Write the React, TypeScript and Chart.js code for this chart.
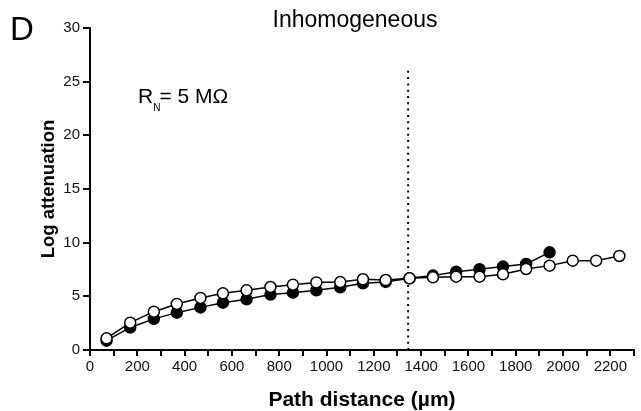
import React, { useEffect, useRef } from "react";
import { Chart, registerables } from "chart.js";

Chart.register(...registerables);

const pathDistance = [70, 170, 270, 367, 467, 562, 662, 763, 858, 957, 1058, 1154, 1250, 1351, 1450, 1548, 1647, 1746, 1844, 1943, 2041, 2140, 2238];
const filledValues = [0.87, 2.1, 2.9, 3.48, 3.97, 4.41, 4.72, 5.16, 5.34, 5.56, 5.85, 6.21, 6.34, 6.68, 6.93, 7.3, 7.52, 7.77, 8.01, 9.1];
const openValues = [1.09, 2.55, 3.57, 4.29, 4.85, 5.28, 5.56, 5.87, 6.09, 6.3, 6.33, 6.59, 6.52, 6.68, 6.77, 6.83, 6.83, 7.05, 7.55, 7.86, 8.32, 8.32, 8.76];
const markerX = [1345, 1345];
const markerY = [0, 26.2];
const yTicks = [0, 5, 10, 15, 20, 25, 30];

const FONT = "'Liberation Sans', Arial, Helvetica, sans-serif";

const annotations = {
  id: "annotations",
  afterDraw(chart: any) {
    const ctx = chart.ctx;
    ctx.save();
    ctx.fillStyle = "#000";
    ctx.textBaseline = "alphabetic";
    ctx.textAlign = "left";
    ctx.font = `33px ${FONT}`;
    ctx.fillText("D", 10, 40);
    ctx.textAlign = "center";
    ctx.font = `23px ${FONT}`;
    ctx.fillText("Inhomogeneous", 355, 27);
    ctx.textAlign = "left";
    ctx.font = `21px ${FONT}`;
    let x = 138;
    ctx.fillText("R", x, 103);
    x += ctx.measureText("R").width;
    ctx.font = `10px ${FONT}`;
    ctx.fillText("N", x, 111);
    x += ctx.measureText("N").width - 1;
    ctx.font = `21px ${FONT}`;
    ctx.fillText("= 5 M\u03A9", x, 103);
    ctx.restore();
  },
};

export default function App() {
  const ref = useRef<HTMLCanvasElement>(null);
  useEffect(() => {
    if (!ref.current) return;
    const chart = new Chart(ref.current, {
      type: "line",
      data: {
        datasets: [
          {
            label: "open",
            data: pathDistance.slice(0, openValues.length).map((d, i) => ({ x: d, y: openValues[i] })),
            borderColor: "#000",
            borderWidth: 1.5,
            backgroundColor: "#fff",
            pointBackgroundColor: "#fff",
            pointBorderColor: "#000",
            pointBorderWidth: 1.5,
            pointRadius: 5.5,
            tension: 0,
            order: 0,
          },
          {
            label: "filled",
            data: pathDistance.slice(0, filledValues.length).map((d, i) => ({ x: d, y: filledValues[i] })),
            borderColor: "#000",
            borderWidth: 1.5,
            backgroundColor: "#000",
            pointBackgroundColor: "#000",
            pointBorderColor: "#000",
            pointBorderWidth: 1.5,
            pointRadius: 5.5,
            tension: 0,
            order: 1,
          },
          {
            label: "marker",
            data: markerX.map((d, i) => ({ x: d, y: markerY[i] })),
            borderColor: "#000",
            borderWidth: 2,
            borderDash: [2, 4.3],
            pointRadius: 0,
            order: 2,
          },
        ],
      },
      options: {
        animation: false,
        responsive: false,
        maintainAspectRatio: false,
        layout: { padding: { left: 0, right: 6, top: 28, bottom: 0 } },
        plugins: {
          legend: { display: false },
          tooltip: { enabled: false },
          title: { display: false },
        },
        scales: {
          x: {
            type: "linear",
            min: 0,
            max: 2300,
            afterFit: (s: any) => {
              s.height = 61;
              s.paddingLeft = 0;
              s.paddingRight = 0;
            },
            border: { display: true, color: "#000", width: 2 },
            grid: { drawOnChartArea: false, drawTicks: true, tickLength: 6, color: "#000", lineWidth: 2 },
            ticks: {
              stepSize: 100,
              autoSkip: false,
              maxRotation: 0,
              padding: 2,
              color: "#111",
              font: { family: FONT, size: 15 },
              callback: (v: any) => (Number(v) % 200 === 0 ? String(v) : ""),
            },
            title: {
              display: true,
              text: "Path distance (\u00B5m)",
              color: "#000",
              font: { family: FONT, size: 21, weight: "bold", lineHeight: 1 },
              padding: 0,
            },
          },
          y: {
            min: 0,
            max: 30,
            afterFit: (s: any) => {
              s.width = 90;
              s.paddingTop = 0;
              s.paddingBottom = 0;
            },
            afterBuildTicks: (s: any) => {
              s.ticks = yTicks.map((v) => ({ value: v }));
            },
            border: { display: true, color: "#000", width: 2 },
            grid: { drawOnChartArea: false, drawTicks: true, tickLength: 7, color: "#000", lineWidth: 2 },
            ticks: {
              padding: 3,
              color: "#111",
              font: { family: FONT, size: 15 },
            },
            title: {
              display: true,
              text: "Log attenuation",
              color: "#000",
              font: { family: FONT, size: 18.5, weight: "bold", lineHeight: 1 },
              padding: { top: 40, bottom: 0 },
            },
          },
        },
      },
      plugins: [annotations],
    });
    return () => chart.destroy();
  }, []);
  return (
    <div style={{ position: "absolute", left: 0, top: 0, width: 641, height: 411, background: "#fff" }}>
      <canvas ref={ref} width={641} height={411} style={{ display: "block" }} />
    </div>
  );
}
